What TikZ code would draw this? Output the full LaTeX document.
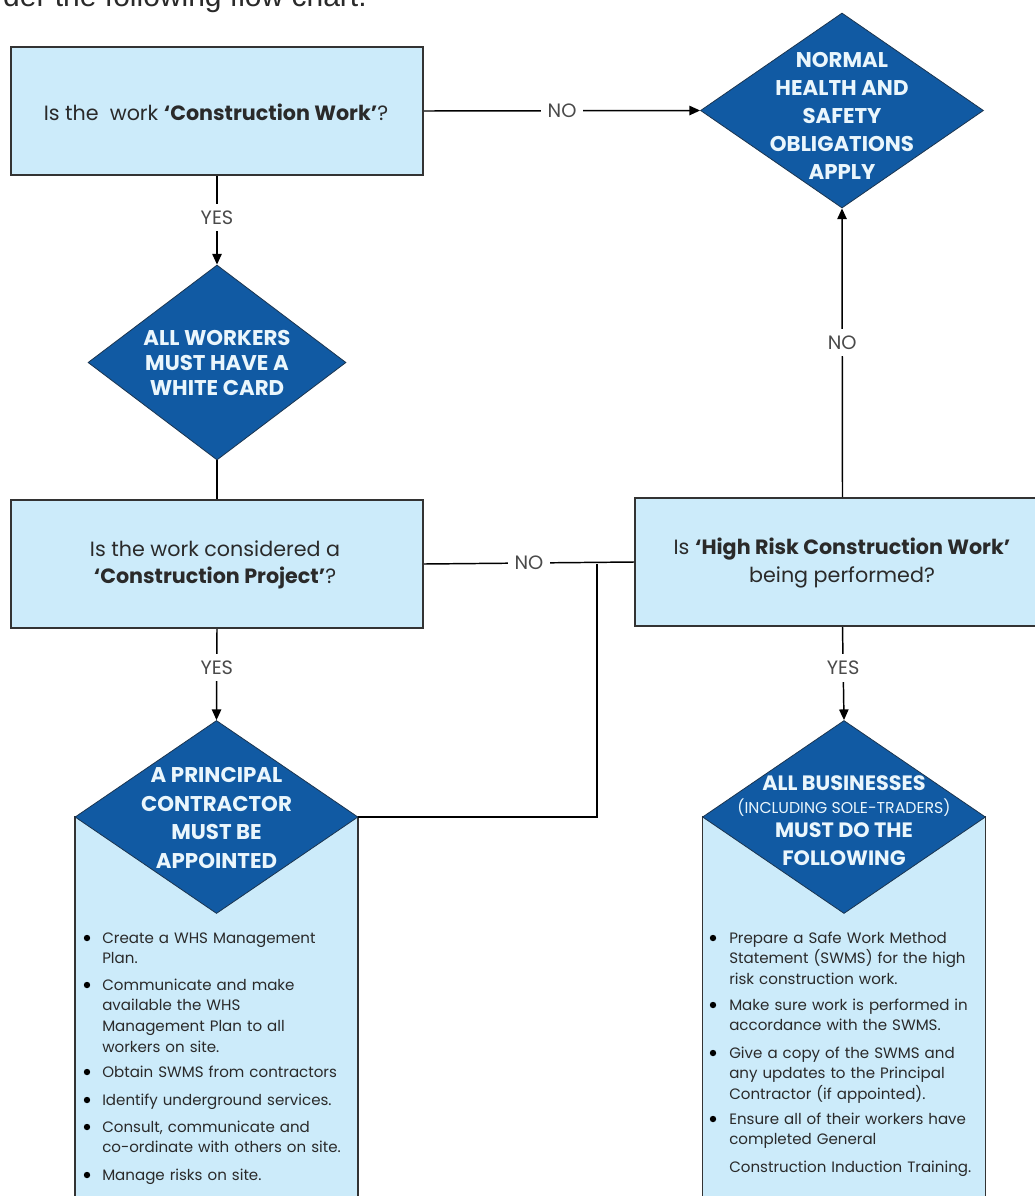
\documentclass[tikz,border=0pt]{standalone}
\usepackage{fontspec}
\setmainfont{Poppins}
\newfontfamily\arialf{Liberation Sans}
\usetikzlibrary{arrows.meta,shapes.geometric}
\definecolor{boxfill}{HTML}{CCEBFA}
\definecolor{dfill}{HTML}{115AA3}
\definecolor{dline}{HTML}{1B3550}
\definecolor{dtext}{HTML}{EAF6FC}
\definecolor{bord}{HTML}{333333}
\definecolor{txt}{HTML}{2A2A2A}
\definecolor{lbltxt}{HTML}{4A4A4A}
\begin{document}
\begin{tikzpicture}[x=0.75pt,y=-0.75pt,
  qbox/.style={draw=bord,line width=1.5pt,fill=boxfill,inner sep=0pt},
  lbox/.style={draw=bord,line width=1.2pt,fill=boxfill,inner sep=0pt,minimum width=212.25pt,minimum height=324.75pt},
  dia/.style={shape=diamond,draw=dline,line width=0.6pt,fill=dfill,inner sep=0pt},
  qtext/.style={text=txt,align=center,inner sep=0pt,font=\fontsize{15.5}{20.5}\selectfont},
  dtxt/.style={text=dtext,align=center,inner sep=0pt},
  dline1/.style={text=dtext,inner sep=0pt,anchor=base,font=\bfseries\fontsize{15.6}{18}\selectfont},
  conn/.style={draw=black,line width=1.1pt},
  arr/.style={-{Triangle[length=8pt,width=7pt]}},
  lbl/.style={fill=white,text=lbltxt,inner sep=5pt,font=\fontsize{14.5}{16}\selectfont},
  btext/.style={text=txt,align=left,inner sep=0pt,anchor=base west,text width=250pt,font=\fontsize{11.3}{15.5}\selectfont},
  bul/.style={fill=black}
]
\useasboundingbox (0,0) rectangle (1035,1196);

% intro line (cut at the top)
\node[anchor=base east,inner sep=0pt,text=txt,font=\arialf\fontsize{22.5}{26}\selectfont] (intro) at (367,6) {der the following flow chart.};

% question boxes
\node[qbox,minimum width=309pt,minimum height=96pt] (b1) at (217,111) {};
\node[qbox,minimum width=309pt,minimum height=96pt] (b2) at (217,564) {};
\node[qbox,minimum width=311.25pt,minimum height=96pt] (b3) at (842.5,562) {};

\node[qtext] (t1) at (216,112) {Is the\ \ work \textbf{‘Construction Work’}?};
\node[qtext] (t2) at (215,565) {Is the work considered a\\\textbf{‘Construction Project’}?};
\node[qtext] (t3) at (842,563) {Is \textbf{‘High Risk Construction Work’}\\being performed?};

% lower list boxes
\node[lbox] (lb) at (216.5,1033.5) {};
\node[lbox] (rb) at (844,1033.5) {};

% diamonds
\node[dia,minimum width=212.25pt,minimum height=146.25pt] (dN) at (842,110.5) {};
\node[dia,minimum width=193.5pt,minimum height=146.25pt] (d1) at (217,362.5) {};
\node[dia,minimum width=212.25pt,minimum height=144.75pt] (dP) at (216.5,817) {};
\node[dia,minimum width=212.25pt,minimum height=144.75pt] (dB) at (844,817) {};

\node[dtxt,font=\bfseries\fontsize{16}{21}\selectfont] (tN) at (842,116) {NORMAL\\HEALTH AND\\SAFETY\\OBLIGATIONS\\APPLY};
\node[dtxt,font=\bfseries\fontsize{16}{19}\selectfont] (td1) at (217,363) {ALL WORKERS\\MUST HAVE A\\WHITE CARD};
\node[dtxt,font=\bfseries\fontsize{16}{21.4}\selectfont] (tP) at (216.5,818) {A PRINCIPAL\\CONTRACTOR\\MUST BE\\APPOINTED};
\node[dline1] (tB1) at (844,790.5) {ALL BUSINESSES};
\node[dline1,font=\fontsize{11.8}{14}\selectfont] (tB2) at (844,813.5) {(INCLUDING SOLE-TRADERS)};
\node[dline1] (tB3) at (844,837.5) {MUST DO THE};
\node[dline1] (tB4) at (844,865.5) {FOLLOWING};

% connectors
\draw[conn,arr] (b1.east) -- node[lbl] (no1) {NO} (dN.west);
\draw[conn,arr] (b1.south) -- node[lbl,pos=0.47] (yes1) {YES} (d1.north);
\draw[conn] (d1.south) -- (b2.north);
\draw[conn,arr] (b2.south) -- node[lbl,pos=0.42] (yes2) {YES} (dP.north);
\draw[conn] (b2.east) -- node[lbl,pos=0.50] (no2) {NO} (b3.west);
\coordinate (j) at (597,564);
\draw[conn] (j) |- (dP.east);
\draw[conn,arr] (b3.north) -- node[lbl,pos=0.534] (no3) {NO} (dN.south);
\draw[conn,arr] (b3.south) -- node[lbl,pos=0.44] (yes3) {YES} (dB.north);

% left list
\node[btext] (l1) at (102,943) {Create a WHS Management\\Plan.};
\node[btext] (l2) at (102,990) {Communicate and make\\available the WHS\\Management Plan to all\\workers on site.};
\node[btext] (l3) at (102,1077) {Obtain SWMS from contractors};
\node[btext] (l4) at (102,1105) {Identify underground services.};
\node[btext] (l5) at (102,1132) {Consult, communicate and\\co-ordinate with others on site.};
\node[btext] (l6) at (102,1180) {Manage risks on site.};
\foreach \yy in {938,985,1072,1100,1127,1175} \fill[bul] (87,\yy) circle[radius=2.4pt];

% right list
\node[btext] (r1) at (729,943) {Prepare a Safe Work Method\\Statement (SWMS) for the high\\risk construction work.};
\node[btext] (r2) at (729,1010) {Make sure work is performed in\\accordance with the SWMS.};
\node[btext] (r3) at (729,1058) {Give a copy of the SWMS and\\any updates to the Principal\\Contractor (if appointed).};
\node[btext] (r4) at (729,1124) {Ensure all of their workers have\\completed General\\[5pt]Construction Induction Training.};
\foreach \yy in {938,1005,1053,1119} \fill[bul] (713,\yy) circle[radius=2.4pt];
\end{tikzpicture}
\end{document}
